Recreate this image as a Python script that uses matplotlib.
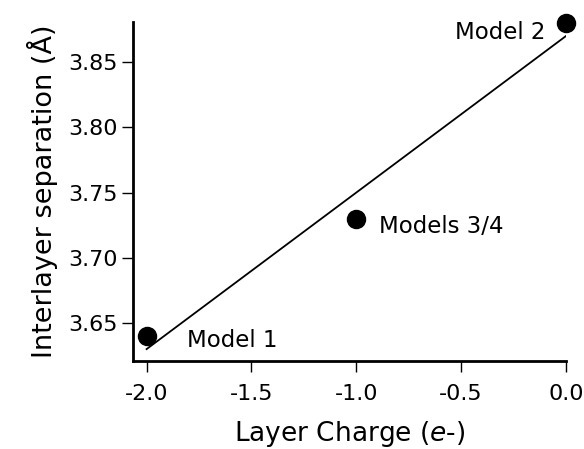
import numpy as np
import matplotlib
matplotlib.use("Agg")
import matplotlib.pyplot as plt

# data
charge = [-2.0, -1.0, 0.0]
separation = [3.64, 3.73, 3.88]
labels = ["Model 1", "Models 3/4", "Model 2"]

x_ticks = [-2.0, -1.5, -1.0, -0.5, 0.0]
y_ticks = [3.65, 3.70, 3.75, 3.80, 3.85]

plt.rcParams['font.family'] = ['DejaVu Sans']

fig = plt.figure(figsize=(5.84, 4.49), dpi=100)
ax = fig.add_axes([0.2277, 0.1949, 0.7414, 0.7568])

# linear fit through the three points
slope, intercept = np.polyfit(charge, separation, 1)
xfit = np.array([min(charge), max(charge)])
ax.plot(xfit, slope * xfit + intercept, color='black', lw=1.3)

ax.plot(charge, separation, 'o', color='black', ms=13, clip_on=False, zorder=3)

# label offsets (points) and alignment
offsets = [(29, -8, 'left'), (16, -10, 'left'), (-15, -11.5, 'right')]
for xv, yv, lab, (dx, dy, ha) in zip(charge, separation, labels, offsets):
    ax.annotate(lab, (xv, yv), xytext=(dx, dy), textcoords='offset points',
                ha=ha, va='baseline', fontsize=16.5)

ax.set_xlim(-2.065, 0.0)
ax.set_ylim(3.6205, 3.881)
ax.set_xticks(x_ticks)
ax.set_xticklabels([f"{t:.1f}" for t in x_ticks])
ax.set_yticks(y_ticks)
ax.set_yticklabels([f"{t:.2f}" for t in y_ticks])

for s in ['top', 'right']:
    ax.spines[s].set_visible(False)
for s in ['left', 'bottom']:
    ax.spines[s].set_linewidth(2)

ax.tick_params(axis='x', direction='out', length=8, width=1, pad=8, labelsize=16)
ax.tick_params(axis='y', direction='out', length=8, width=1, pad=3, labelsize=16)

ax.set_xlabel("Layer Charge ($\\mathit{e}$-)", fontsize=19, labelpad=11)
ax.set_ylabel("Interlayer separation (Å)", fontsize=19.5, labelpad=7)

fig.savefig("out.png", dpi=100)
